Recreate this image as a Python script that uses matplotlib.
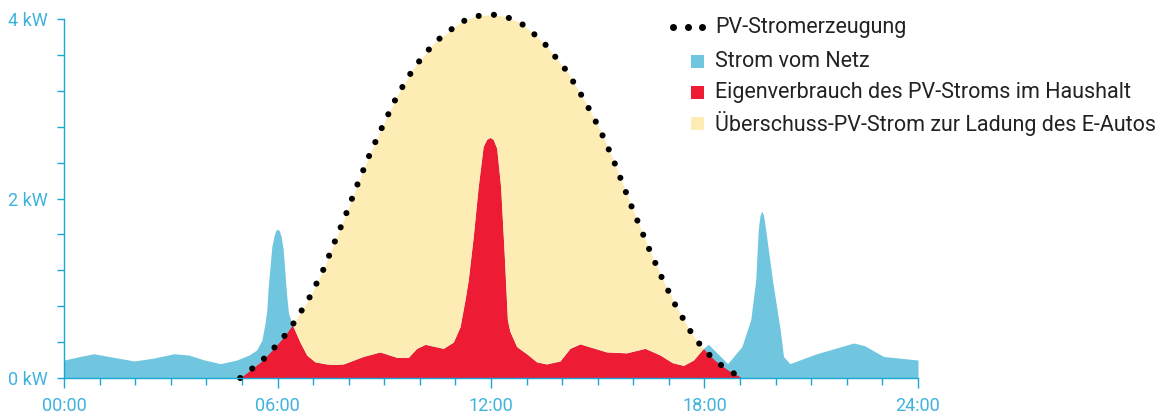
import numpy as np
import matplotlib.pyplot as plt
from matplotlib.patches import Rectangle
from matplotlib.ticker import MultipleLocator, FixedLocator

plt.rcParams['font.family'] = ['Roboto', 'DejaVu Sans']

# household consumption (kW)
cons_h = [0.00, 0.45, 0.84, 1.40, 1.97, 2.50, 3.09, 3.51, 3.95, 4.40, 4.85, 5.20,
          5.41, 5.56, 5.65, 5.70, 5.74, 5.79, 5.84, 5.90, 5.95, 6.00, 6.05, 6.10, 6.16,
          6.21, 6.26, 6.31, 6.42, 6.63, 6.82, 7.05, 7.38, 7.60, 7.85, 8.41, 8.88, 9.35,
          9.68, 9.91, 10.15, 10.66, 10.94, 11.13, 11.27, 11.36, 11.50, 11.64, 11.78,
          11.88, 11.97, 12.06, 12.16, 12.27, 12.37, 12.46, 12.53, 12.72, 13.00, 13.28,
          13.56, 13.94, 14.22, 14.50, 15.25, 15.81, 16.33, 16.75, 17.10, 17.41, 17.69,
          17.97, 18.11, 18.35, 18.65, 19.05, 19.30, 19.44, 19.51, 19.56, 19.61, 19.66,
          19.72, 19.91, 20.13, 20.22, 20.40, 21.15, 22.19, 22.50, 23.03, 24.00]
cons_kw = [0.20, 0.24, 0.27, 0.23, 0.19, 0.22, 0.27, 0.256, 0.20, 0.16, 0.20, 0.256,
           0.31, 0.42, 0.61, 0.76, 1.02, 1.24, 1.46, 1.58, 1.64, 1.66, 1.64, 1.58, 1.43,
           1.17, 0.91, 0.72, 0.59, 0.40, 0.256, 0.18, 0.156, 0.15, 0.156, 0.24, 0.29, 0.23,
           0.23, 0.33, 0.375, 0.33, 0.40, 0.57, 0.87, 1.09, 1.57, 2.13, 2.58,
           2.66, 2.68, 2.66, 2.56, 2.13, 1.39, 0.65, 0.52, 0.35, 0.27, 0.18,
           0.156, 0.19, 0.33, 0.38, 0.29, 0.28, 0.33, 0.256, 0.17, 0.14, 0.20,
           0.33, 0.375, 0.28, 0.16, 0.35, 0.65, 1.09, 1.65, 1.81, 1.86, 1.81,
           1.65, 1.09, 0.53, 0.24, 0.16, 0.27, 0.39, 0.36, 0.24, 0.20]

# PV generation (kW)
pv_h = [4.95, 5.24, 5.56, 5.87, 6.16, 6.42, 6.66, 6.89, 7.08, 7.28, 7.57, 7.91,
        8.24, 8.59, 8.97, 9.37, 9.84, 10.42, 11.13, 11.55, 12.02, 12.39, 12.82,
        13.19, 13.54, 14.13, 14.62, 15.06, 15.44, 15.91, 16.43, 16.81, 17.21,
        17.68, 17.96, 18.28, 18.65, 19.06]
pv_kw = [0.00, 0.09, 0.19, 0.32, 0.45, 0.59, 0.74, 0.89, 1.04, 1.20, 1.48, 1.81,
         2.15, 2.49, 2.82, 3.15, 3.46, 3.74, 3.96, 4.03, 4.05, 4.03, 3.96,
         3.84, 3.71, 3.42, 3.10, 2.77, 2.43, 1.95, 1.45, 1.11, 0.79,
         0.47, 0.33, 0.20, 0.09, 0.00]

x_labels = ['00:00', '06:00', '12:00', '18:00', '24:00']
y_labels = ['0 kW', '2 kW', '4 kW']
legend_labels = ['PV-Stromerzeugung', 'Strom vom Netz',
                 'Eigenverbrauch des PV-Stroms im Haushalt',
                 'Überschuss-PV-Strom zur Ladung des E-Autos']

c_blue = '#6fc6de'
c_red = '#ed1b33'
c_yellow = '#feecb5'
c_axis = '#1ba7d3'
c_tick = '#3fb3dc'

fig = plt.figure(figsize=(11.69, 4.17), dpi=100)
ax = fig.add_axes([64/1169, 39/417, 854/1169, 359/417])

t = np.linspace(0, 24, 4801)
c = np.interp(t, cons_h, cons_kw)
p = np.interp(t, pv_h, pv_kw, left=0, right=0)

ax.fill_between(t, 0, c, color=c_blue, lw=0, clip_on=False, zorder=1)
ax.fill_between(t, 0, np.minimum(c, p), color=c_red, lw=0, clip_on=False, zorder=2)
ax.fill_between(t, c, p, where=p > c, interpolate=True, color=c_yellow, lw=0,
                clip_on=False, zorder=3)
ax.plot(pv_h, pv_kw, color='black', lw=4.4, linestyle=(0, (0.01, 2.5)),
        dash_capstyle='round', clip_on=False, zorder=5)

ax.set_xlim(0, 24)
ax.set_ylim(0, 4)
for s in ['top', 'right']:
    ax.spines[s].set_visible(False)
for s in ['left', 'bottom']:
    ax.spines[s].set_color(c_axis)
    ax.spines[s].set_linewidth(1.0)
    ax.spines[s].set_zorder(6)

ax.xaxis.set_major_locator(FixedLocator([0, 6, 12, 18, 24]))
ax.xaxis.set_minor_locator(MultipleLocator(1))
ax.set_xticklabels(x_labels)
ax.yaxis.set_major_locator(FixedLocator([0, 2, 4]))
ax.yaxis.set_minor_locator(MultipleLocator(0.4))
ax.set_yticklabels(y_labels)
ax.tick_params(axis='x', which='major', length=7, width=1, color=c_axis,
               labelcolor=c_tick, labelsize=13, pad=7)
ax.tick_params(axis='x', which='minor', length=5, width=1, color=c_axis)
ax.tick_params(axis='y', which='both', length=5, width=1, color=c_axis,
               labelcolor=c_tick, labelsize=13, pad=7)

# legend drawn in pixel space
lg = fig.add_axes([0, 0, 1, 1])
lg.set_xlim(0, 1169)
lg.set_ylim(417, 0)
lg.axis('off')
rows = [27, 61, 92, 123]
lg.plot([673, 688, 702], [rows[0]] * 3, 'o', color='black', ms=4)
for y, col in zip(rows[1:], [c_blue, c_red, c_yellow]):
    lg.add_patch(Rectangle((691, y - 6.5), 13, 13, color=col, lw=0))
for y, txt in zip(rows, legend_labels):
    lg.text(715, y, txt, fontsize=15.5, color='#222222',
            va='center', ha='left')

plt.savefig('out.png', dpi=100)
